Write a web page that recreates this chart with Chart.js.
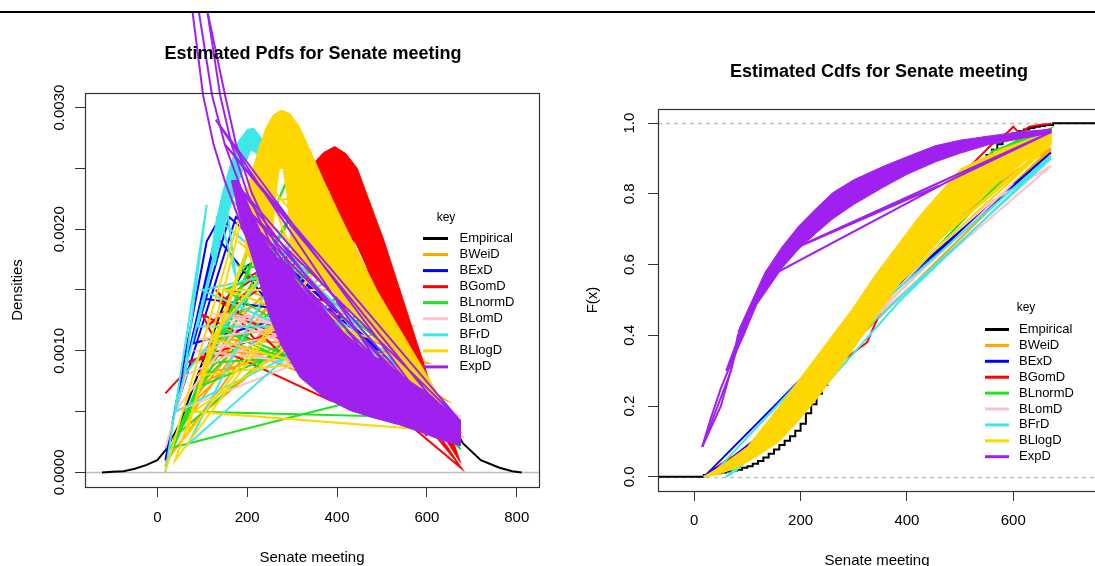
<!DOCTYPE html>
<html><head><meta charset="utf-8">
<script src="https://cdn.jsdelivr.net/npm/chart.js@4.4.1/dist/chart.umd.min.js"></script>
<style>
html,body{margin:0;padding:0;background:#fff;overflow:hidden;width:1095px;height:566px;position:relative;}
#pdf{position:absolute;left:0;top:0;}
#cdf{position:absolute;left:548px;top:0;}
</style></head><body>
<canvas id="pdf" width="548" height="566"></canvas>
<canvas id="cdf" width="557" height="566"></canvas>
<script>
// ---------- series ----------
const seriesNames  = ['Empirical','BWeiD','BExD','BGomD','BLnormD','BLomD','BFrD','BLlogD','ExpD'];
const seriesColors = ['#000000','#FFA500','#0000FF','#FF0000','#1EE31E','#FFC0CB','#3EE8E8','#FFD700','#A020F0'];

// ---------- tick values / labels ----------
const pdfXTicks = [0,200,400,600,800];
const pdfXTickLabels = ['0','200','400','600','800'];
const pdfYTicks = [0,0.0005,0.001,0.0015,0.002,0.0025,0.003];
const pdfYTickLabels = ['0.0000','','0.0010','','0.0020','','0.0030'];
const cdfXTicks = [0,200,400,600];
const cdfXTickLabels = ['0','200','400','600'];
const cdfYTicks = [0,0.2,0.4,0.6,0.8,1.0];
const cdfYTickLabels = ['0.0','0.2','0.4','0.6','0.8','1.0'];

// ---------- PDF panel data ([x, density]) ----------
const pdfEmpirical = [[-123,0],[-100,0.000005],[-75,0.00001],[-50,0.00003],[-25,0.00006],[0,0.0001],[20,0.00019],[50,0.0004],[100,0.0009],[150,0.0014],[200,0.0017],[250,0.0018],[300,0.0018],[350,0.0017],[400,0.0016],[450,0.0014],[500,0.0012],[550,0.001],[600,0.00078],[640,0.0005],[680,0.00024],[720,0.0001],[760,0.00004],[790,0.00001],[811,0]];
const pdfBWeiD = [[18,0.00008],[420,0.0021],[90,0.0008],[560,0.0012],[140,0.0012],[470,0.002],[60,0.0005],[380,0.002],[200,0.0015],[600,0.0009],[110,0.001],[330,0.0018],[40,0.0003],[500,0.0017],[160,0.0013],[640,0.0006],[230,0.0016],[440,0.0021],[80,0.0007],[520,0.0015],[270,0.0017],[675,0.0003],[130,0.0011],[580,0.001],[100,0.0009]];
const pdfBExD = [[18,0.0001],[110,0.0019],[140,0.0021],[100,0.00143],[240,0.00136],[384,0.00134],[675,0.00042],[160,0.0021],[80,0.00106],[240,0.00123],[520,0.0009],[175,0.0021],[40,0.0005],[130,0.00195],[300,0.00115]];
const pdfBGomD = [[18,0.00065],[128,0.00109],[100,0.0013],[224,0.00106],[130,0.0015],[380,0.0006],[160,0.00098],[60,0.0009],[300,0.0012],[675,0.00004],[610,0.0004],[660,0.00012],[620,0.0003],[140,0.0014],[330,0.0019],[110,0.0012],[450,0.0021],[200,0.0016],[560,0.0012]];
const pdfBGomDBand = [[330,0.0024],[350,0.00255],[370,0.00263],[395,0.00268],[420,0.00262],[445,0.0025],[475,0.0022],[505,0.0019],[540,0.0015],[575,0.0011],[610,0.0007],[645,0.0004],[675,0.00008],[640,0.00028],[600,0.0005],[560,0.0008],[520,0.0011],[490,0.0014],[465,0.0017],[440,0.0019],[400,0.0019],[360,0.0019],[330,0.002]];
const pdfBLnormD = [[18,0.00005],[96,0.00073],[60,0.0004],[300,0.0025],[30,0.0002],[560,0.0007],[120,0.0011],[480,0.0013],[90,0.0007],[400,0.0019],[150,0.0015],[620,0.00045],[70,0.0005],[250,0.0023],[675,0.00019],[200,0.002],[520,0.001],[110,0.0009],[340,0.0024],[40,0.0003],[450,0.0016],[180,0.0017],[600,0.0005],[130,0.0012],[675,0.00022]];
const pdfBLomD = [[18,0.0002],[64,0.0008],[300,0.0012],[100,0.0011],[675,0.00046],[128,0.0013],[450,0.0011],[40,0.0005],[200,0.0013],[560,0.0008],[90,0.001],[380,0.0012],[150,0.0013],[620,0.0006]];
const pdfBFrD = [[18,0],[110,0.0022],[60,0.0008],[300,0.0019],[68,0.00023],[288,0.00095],[40,0.0005],[180,0.0026],[90,0.0012],[420,0.0012],[130,0.0021],[675,0.00038],[160,0.0024],[520,0.0008],[100,0.0015],[350,0.0017],[675,0.00035],[150,0.0023],[175,0.0016],[140,0.0021]];
const pdfBFrDBand = [[120,0.0018],[130,0.00205],[145,0.0023],[162,0.00252],[180,0.00272],[200,0.00282],[215,0.00283],[230,0.00276],[245,0.0026],[262,0.0024],[262,0.0022],[240,0.0024],[222,0.00262],[208,0.00265],[192,0.0025],[172,0.0023],[155,0.0021],[140,0.0019],[128,0.0017],[120,0.0018]];
const pdfBLlogD = [[18,0.00001],[230,0.0027],[65,0.0003],[420,0.002],[40,0.0001],[300,0.0029],[100,0.0008],[560,0.001],[150,0.0015],[480,0.0015],[80,0.0005],[675,0.00033],[180,0.0019],[620,0.0006],[120,0.0011],[380,0.0023],[200,0.0022],[520,0.0012],[240,0.0024],[290,0.0019]];
const pdfBLlogDBand = [[195,0.0019],[208,0.00232],[222,0.0026],[240,0.00282],[258,0.00294],[276,0.00298],[295,0.00295],[315,0.00285],[340,0.00265],[370,0.0024],[408,0.0021],[448,0.0018],[488,0.0015],[528,0.00125],[568,0.001],[608,0.00075],[645,0.0005],[675,0.00033],[640,0.00042],[600,0.00058],[560,0.00075],[520,0.00095],[480,0.00115],[440,0.0013],[400,0.00145],[360,0.0016],[330,0.0017],[300,0.0018],[288,0.0023],[280,0.0025],[272,0.0025],[264,0.0023],[255,0.0019],[240,0.0017],[215,0.0017],[200,0.0018],[195,0.0019]];
const pdfExpD = [[675,0.00032],[150,0.0027],[675,0.00042],[190,0.0022],[640,0.00035],[130,0.0029],[600,0.0003],[230,0.0019],[675,0.00022],[260,0.0014],[660,0.0003],[170,0.0024],[560,0.0005],[210,0.00205],[675,0.00028]];
const pdfExpDBand = [[165,0.0024],[180,0.0024],[205,0.00218],[240,0.0019],[273,0.00173],[330,0.00148],[384,0.00125],[440,0.00107],[496,0.00092],[550,0.00078],[607,0.00064],[640,0.00053],[674,0.00043],[674,0.00022],[629,0.00027],[580,0.00034],[540,0.00039],[480,0.00045],[429,0.00051],[370,0.00062],[318,0.00078],[275,0.00105],[248,0.0013],[225,0.0016],[200,0.0019],[180,0.00215],[165,0.0024]];
const pdfExpDCurve1 = [[55,0.005],[78,0.0038],[102,0.0031],[125,0.0027],[150,0.0024],[190,0.002],[240,0.0016],[300,0.0013],[380,0.00095],[460,0.0007],[560,0.00048],[675,0.00032]];
const pdfExpDCurve2 = [[70,0.005],[92,0.0038],[122,0.0031],[150,0.0027],[180,0.0024],[220,0.002],[280,0.0016],[350,0.00125],[430,0.0009],[520,0.00062],[600,0.00045],[675,0.00035]];
const pdfExpDCurve3 = [[92,0.005],[111,0.0038],[140,0.0031],[165,0.0027],[200,0.0023],[250,0.0019],[320,0.0015],[400,0.0011],[480,0.0008],[560,0.0006],[675,0.0004]];
const pdfExpDCurve4 = [[111,0.0038],[151,0.0031],[175,0.0027],[210,0.0023],[260,0.0019],[330,0.0015],[420,0.0011],[520,0.0007],[600,0.0005],[675,0.0004]];

// ---------- CDF panel data ([x, F(x)]) ----------
const cdfEmpirical = [[-90,0],[18,0.005],[30,0.008],[40,0.01],[50,0.012],[60,0.015],[70,0.018],[80,0.02],[90,0.026],[100,0.03],[110,0.037],[120,0.045],[130,0.055],[140,0.065],[150,0.077],[160,0.09],[170,0.102],[180,0.115],[190,0.13],[200,0.15],[210,0.18],[220,0.205],[230,0.235],[240,0.26],[250,0.285],[260,0.31],[270,0.33],[280,0.355],[290,0.38],[300,0.405],[310,0.43],[320,0.455],[330,0.48],[340,0.505],[350,0.525],[360,0.55],[370,0.57],[380,0.59],[390,0.61],[400,0.63],[410,0.65],[420,0.67],[430,0.69],[440,0.71],[450,0.73],[460,0.75],[470,0.77],[480,0.79],[490,0.81],[500,0.83],[510,0.85],[520,0.865],[530,0.88],[540,0.895],[550,0.91],[560,0.925],[570,0.94],[580,0.952],[590,0.962],[600,0.972],[610,0.977],[620,0.982],[630,0.986],[640,0.99],[650,0.992],[660,0.995],[675,1],[800,1]];
const cdfBWeiD = [[18,0],[70,0.05],[140,0.14],[220,0.27],[300,0.41],[400,0.58],[500,0.73],[600,0.86],[671,0.93],[250,0.33],[480,0.71],[150,0.16],[671,0.925]];
const cdfBExD = [[18,0],[31,0.019],[273,0.386],[671,0.917],[350,0.5],[110,0.1],[45,0.025],[69,0.055],[18,0]];
const cdfBGomD = [[18,0],[40,0.02],[69,0.056],[45,0.03],[120,0.1],[200,0.2],[280,0.33],[325,0.38],[360,0.5],[420,0.65],[472,0.8],[520,0.88],[560,0.94],[590,0.975],[600,0.99],[612,0.97],[630,0.99],[650,0.995],[671,0.998]];
const cdfBLnormD = [[18,0],[70,0.04],[150,0.13],[230,0.25],[320,0.42],[400,0.6],[470,0.76],[530,0.87],[580,0.93],[620,0.96],[671,0.985],[330,0.45],[560,0.92],[671,0.98]];
const cdfBLomD = [[18,0],[60,0.02],[150,0.13],[250,0.3],[350,0.48],[450,0.64],[550,0.77],[671,0.879],[300,0.4],[600,0.83]];
const cdfBFrD = [[18,0],[40,0.015],[260,0.37],[671,0.908],[388,0.5],[300,0.35],[200,0.18],[80,0.02],[60,0],[120,0.08],[280,0.36],[671,0.9]];
const cdfBLlogD = [[671,0.948],[420,0.62],[671,0.94],[350,0.5],[560,0.86],[671,0.96]];
const cdfBLlogDBand = [[18,0],[50,0.03],[100,0.085],[150,0.18],[200,0.28],[250,0.38],[300,0.48],[340,0.57],[380,0.65],[425,0.74],[460,0.8],[500,0.87],[575,0.925],[650,0.965],[671,0.972],[671,0.94],[620,0.89],[570,0.83],[520,0.76],[470,0.68],[420,0.6],[388,0.55],[350,0.47],[312,0.39],[270,0.3],[230,0.22],[197,0.16],[160,0.1],[120,0.06],[80,0.025],[40,0.005],[18,0]];
const cdfExpD = [[15,0.085],[50,0.2],[88,0.405],[114,0.5],[140,0.57],[69,0.33],[95,0.41],[60,0.3],[100,0.46],[133,0.56],[473,0.832],[671,0.975],[165,0.63],[460,0.823]];
const cdfExpDBand = [[82,0.41],[100,0.47],[133,0.578],[165,0.65],[197,0.71],[230,0.76],[261,0.804],[300,0.84],[357,0.879],[400,0.905],[453,0.936],[500,0.952],[556,0.964],[610,0.975],[671,0.983],[671,0.972],[610,0.955],[556,0.94],[500,0.915],[453,0.89],[400,0.855],[357,0.82],[300,0.77],[261,0.73],[230,0.69],[197,0.645],[165,0.59],[133,0.52],[100,0.45],[82,0.41]];
const cdfExpDCurve1 = [[15,0.085],[30,0.16],[50,0.25],[69,0.32],[95,0.41],[120,0.5],[150,0.58]];
const cdfExpDCurve2 = [[15,0.085],[69,0.3],[82,0.4],[110,0.49],[133,0.56]];

// ---------- helpers ----------
const FONT = '"Liberation Sans", Arial, Helvetica, sans-serif';
const toXY = arr => arr.map(p => ({x: p[0], y: p[1]}));
function lineDS(arr, ci, order, extra) {
  return Object.assign({label: seriesNames[ci], data: toXY(arr), borderColor: seriesColors[ci], backgroundColor: seriesColors[ci],
    borderWidth: 2, showLine: true, pointRadius: 0, pointHoverRadius: 0, fill: false, tension: 0, order: order}, extra || {});
}
function bandDS(arr, ci, order) { return lineDS(arr, ci, order, {fill: 'shape', borderWidth: 1}); }

const decor = {
  id: 'decor',
  beforeDatasetsDraw(chart, args, o) {
    const {ctx, chartArea: a, scales} = chart;
    ctx.save();
    ctx.beginPath(); ctx.rect(a.left, a.top, a.right - a.left, a.bottom - a.top); ctx.clip();
    ctx.strokeStyle = '#BEBEBE'; ctx.lineWidth = 1.5; ctx.setLineDash(o.refDash);
    o.refLines.forEach(v => {
      const y = Math.round(scales.y.getPixelForValue(v)) + 0.5;
      ctx.beginPath(); ctx.moveTo(a.left, y); ctx.lineTo(a.right, y); ctx.stroke();
    });
    ctx.restore();
  },
  afterDraw(chart, args, o) {
    const {ctx, chartArea: a} = chart;
    ctx.save();
    ctx.setLineDash([]);
    ctx.strokeStyle = '#333'; ctx.lineWidth = 1.2;
    ctx.strokeRect(Math.round(a.left) + 0.5, Math.round(a.top) + 0.5, Math.round(a.right - a.left), Math.round(a.bottom - a.top));
    ctx.fillStyle = '#000'; ctx.textAlign = 'center'; ctx.textBaseline = 'middle';
    ctx.font = 'bold 18px ' + FONT; ctx.fillText(o.title, o.titleX, o.titleY);
    ctx.font = '15px ' + FONT; ctx.fillText(o.xLabel, o.xLabelX, o.xLabelY);
    ctx.save(); ctx.translate(o.yLabelX, o.yLabelY); ctx.rotate(-Math.PI / 2); ctx.fillText(o.yLabel, 0, 0); ctx.restore();
    const L = o.legend;
    ctx.font = '12px ' + FONT; ctx.fillText('key', L.keyX, L.keyY);
    ctx.font = '13px ' + FONT; ctx.textAlign = 'left';
    seriesNames.forEach((n, i) => {
      const y = L.y + i * L.dy;
      ctx.strokeStyle = seriesColors[i]; ctx.lineWidth = 3;
      ctx.beginPath(); ctx.moveTo(L.x, y); ctx.lineTo(L.x + L.w, y); ctx.stroke();
      ctx.fillStyle = '#000'; ctx.fillText(n, L.tx, y);
    });
    ctx.fillStyle = '#fff'; ctx.fillRect(0, 0, chart.width, 11);
    ctx.fillStyle = '#000'; ctx.fillRect(0, 11, chart.width, 2);
    ctx.restore();
  }
};

function axisX(min, max, ticks, labels, height, pad) {
  return {type: 'linear', min, max,
    afterBuildTicks: s => { s.ticks = ticks.map(v => ({value: v})); },
    afterFit: s => { s.height = height; },
    grid: {drawOnChartArea: false, drawTicks: true, tickLength: 10, color: '#333', lineWidth: 1},
    border: {display: false},
    ticks: {autoSkip: false, maxRotation: 0, minRotation: 0, padding: pad, color: '#000', font: {family: FONT, size: 15},
      callback: (v, i) => labels[i]}};
}
function axisY(min, max, ticks, labels, width, pad) {
  return {type: 'linear', min, max,
    afterBuildTicks: s => { s.ticks = ticks.map(v => ({value: v})); },
    afterFit: s => { s.width = width; },
    grid: {drawOnChartArea: false, drawTicks: true, tickLength: 10, color: '#333', lineWidth: 1},
    border: {display: false},
    ticks: {autoSkip: false, minRotation: 90, maxRotation: 90, crossAlign: 'center', padding: pad, color: '#000', font: {family: FONT, size: 15},
      callback: (v, i) => labels[i]}};
}
const common = {responsive: false, animation: false, devicePixelRatio: 1, events: [],
  elements: {point: {radius: 0}, line: {tension: 0}}};

// ---------- PDF chart ----------
new Chart(document.getElementById('pdf'), {
  type: 'scatter',
  data: {datasets: [
    lineDS(pdfEmpirical, 0, 9),
    lineDS(pdfBWeiD, 1, 8),
    lineDS(pdfBExD, 2, 7),
    lineDS(pdfBGomD, 3, 6),
    bandDS(pdfBGomDBand, 3, 6),
    lineDS(pdfBLnormD, 4, 5),
    lineDS(pdfBLomD, 5, 4),
    lineDS(pdfBFrD, 6, 3),
    bandDS(pdfBFrDBand, 6, 3),
    lineDS(pdfBLlogD, 7, 2),
    bandDS(pdfBLlogDBand, 7, 2),
    lineDS(pdfExpD, 8, 1),
    lineDS(pdfExpDCurve1, 8, 1, {clip: false}),
    lineDS(pdfExpDCurve2, 8, 1, {clip: false}),
    lineDS(pdfExpDCurve3, 8, 1, {clip: false}),
    lineDS(pdfExpDCurve4, 8, 1, {clip: false}),
    bandDS(pdfExpDBand, 8, 1)
  ]},
  options: Object.assign({}, common, {
    layout: {padding: {left: 0, top: 93, right: 9, bottom: 0}},
    plugins: {legend: {display: false}, tooltip: {enabled: false}, title: {display: false},
      decor: {title: 'Estimated Pdfs for Senate meeting', titleX: 313, titleY: 54,
        xLabel: 'Senate meeting', xLabelX: 312, xLabelY: 558, yLabel: 'Densities', yLabelX: 18, yLabelY: 290,
        refLines: [0], refDash: [],
        legend: {keyX: 446, keyY: 218, x: 423, w: 25, tx: 459.5, y: 238.5, dy: 16.05}}},
    scales: {
      x: axisX(-160.9, 849.5, pdfXTicks, pdfXTickLabels, 79, 12),
      y: axisY(-0.00012, 0.00312, pdfYTicks, pdfYTickLabels, 85, -7.5)
    }
  }),
  plugins: [decor]
});

// ---------- CDF chart ----------
new Chart(document.getElementById('cdf'), {
  type: 'scatter',
  data: {datasets: [
    lineDS(cdfEmpirical, 0, 9, {stepped: true}),
    lineDS(cdfBWeiD, 1, 8),
    lineDS(cdfBExD, 2, 7),
    lineDS(cdfBGomD, 3, 6),
    lineDS(cdfBLnormD, 4, 5),
    lineDS(cdfBLomD, 5, 4),
    lineDS(cdfBFrD, 6, 3),
    lineDS(cdfBLlogD, 7, 2),
    bandDS(cdfBLlogDBand, 7, 2),
    lineDS(cdfExpD, 8, 1),
    lineDS(cdfExpDCurve1, 8, 1),
    lineDS(cdfExpDCurve2, 8, 1),
    bandDS(cdfExpDBand, 8, 1)
  ]},
  options: Object.assign({}, common, {
    layout: {padding: {left: 0, top: 109, right: 5, bottom: 0}},
    plugins: {legend: {display: false}, tooltip: {enabled: false}, title: {display: false},
      decor: {title: 'Estimated Cdfs for Senate meeting', titleX: 331, titleY: 72,
        xLabel: 'Senate meeting', xLabelX: 329, xLabelY: 561, yLabel: 'F(x)', yLabelX: 45, yLabelY: 300,
        refLines: [0, 1], refDash: [4, 4],
        legend: {keyX: 478, keyY: 308, x: 437, w: 24, tx: 471, y: 329.5, dy: 15.9}}},
    scales: {
      x: axisX(-68.2, 763.2, cdfXTicks, cdfXTickLabels, 75, 11),
      y: axisY(-0.04, 1.04, cdfYTicks, cdfYTickLabels, 110, 7.6)
    }
  }),
  plugins: [decor]
});
</script>
</body></html>
